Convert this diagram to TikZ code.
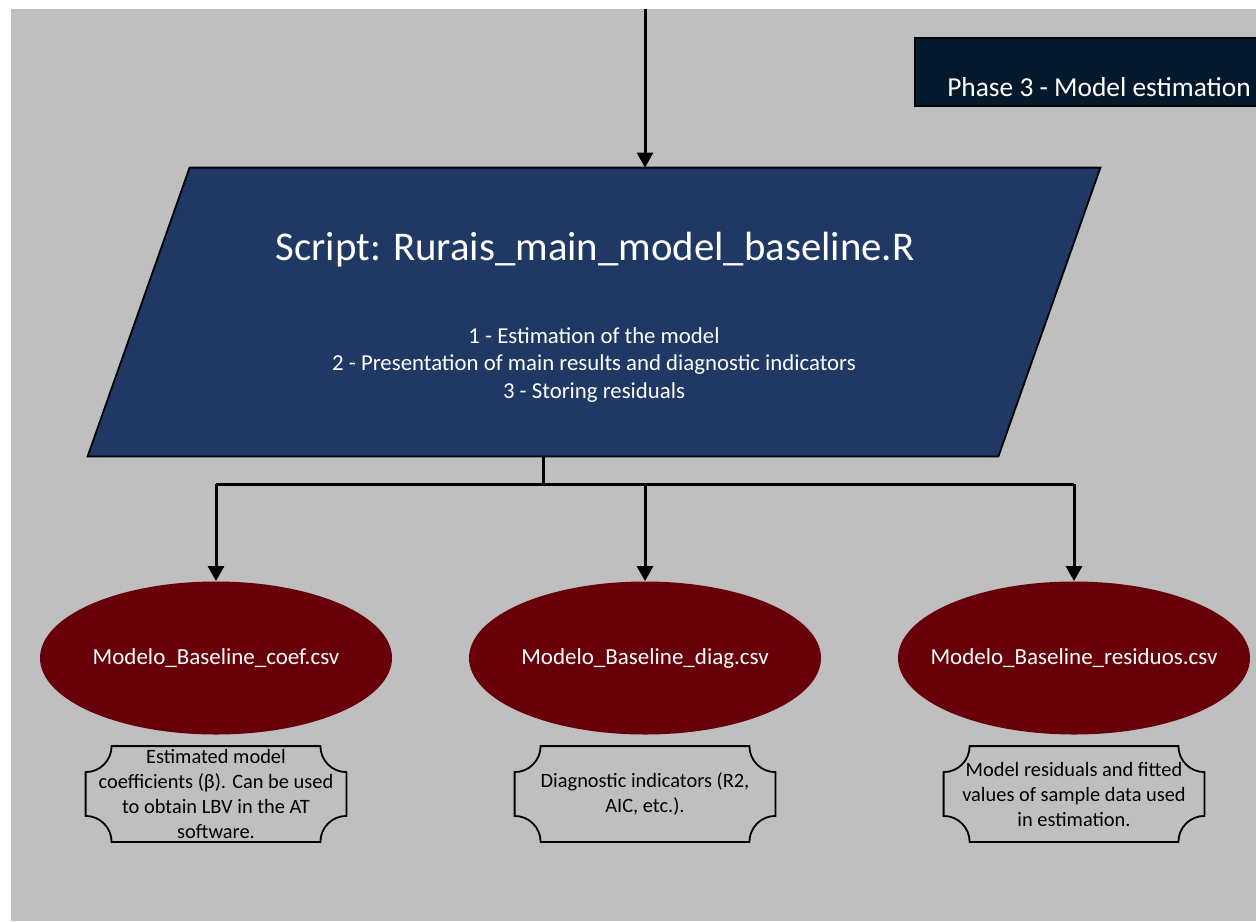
\documentclass[tikz,border=0pt]{standalone}
\usepackage{fontspec}
\setmainfont{Carlito}
\usetikzlibrary{arrows.meta}

\definecolor{canvasgray}{RGB}{191,191,191}
\definecolor{scriptblue}{RGB}{31,56,100}
\definecolor{filered}{RGB}{104,0,10}
\definecolor{phasenavy}{RGB}{4,25,44}

% outline with concave corners around a note node
\newcommand{\plaqueframe}[1]{%
  \draw[line width=0.9pt]
    ([xshift=13pt]#1.north west) -- ([xshift=-13pt]#1.north east)
    arc[start angle=180,end angle=270,radius=13pt] -- ([yshift=13pt]#1.south east)
    arc[start angle=90,end angle=180,radius=13pt] -- ([xshift=13pt]#1.south west)
    arc[start angle=0,end angle=90,radius=13pt] -- ([yshift=-13pt]#1.north west)
    arc[start angle=270,end angle=360,radius=13pt] -- cycle;}

\usetikzlibrary{shapes.geometric}

\begin{document}
\begin{tikzpicture}[x=0.5pt,y=-0.5pt,
  flow/.style={line width=1.5pt},
  flowarrow/.style={line width=1.5pt,-{Triangle[width=8pt,length=7.5pt]}},
  file/.style={ellipse,fill=filered,minimum width=176pt,minimum height=76.5pt,inner sep=0pt},
  filetext/.style={text=white,font=\fontsize{11.5}{13}\selectfont},
  note/.style={minimum width=130pt,minimum height=47.5pt,inner sep=0pt,align=center,font=\fontsize{10.2}{12.5}\selectfont}]
	\useasboundingbox (0,0) rectangle (1256,921);
	\clip (0,0) rectangle (1256,921);
	\fill[white] (0,0) rectangle (1256,921);
	\fill[canvasgray] (11,9) rectangle (1256,921);
	
	\node[draw,line width=0.6pt,fill=phasenavy,minimum width=184pt,minimum height=34pt] (phase) at (1099,72) {};
	\node[text=white,font=\fontsize{13.7}{16}\selectfont] (phasetext) at (1099,87) {Phase 3 - Model estimation};
	
	% parallelogram drawn on the corners of an empty box
	\node[minimum width=455pt,minimum height=144pt,inner sep=0pt] (script) at (594,312) {};
	\filldraw[fill=scriptblue,line width=0.9pt] ([xshift=25.5pt]script.north west) -- ([xshift=25.5pt]script.north east)
		-- ([xshift=-25.5pt]script.south east) -- ([xshift=-25.5pt]script.south west) -- cycle;
	\node[text=white,font=\fontsize{20.4}{23}\selectfont] (title) at (595,250) {Script: Rurais\_main\_model\_baseline.R};
	\node[text=white,align=center,font=\fontsize{11.4}{13.75}\selectfont] (steps) at (594,365) {1 - Estimation of the model\\2 - Presentation of main results and diagnostic indicators\\3 - Storing residuals};
	
	\node[file, label={[filetext]center:Modelo\_Baseline\_coef.csv}] (coef) at (216,658) {};
	\node[file, label={[filetext]center:Modelo\_Baseline\_diag.csv}] (diag) at (645,658) {};
	\node[file, label={[filetext]center:Modelo\_Baseline\_residuos.csv}] (resid) at (1074,658) {};
	
	\node[note] (coefnote) at (216,794) {Estimated model\\coefficients (β). Can be used\\to obtain LBV in the AT\\software.};
	\node[note] (diagnote) at (645,794) {Diagnostic indicators (R2,\\AIC, etc.).};
	\node[note] (residnote) at (1074,794) {Model residuals and fitted\\values of sample data used\\in estimation.};
	\plaqueframe{coefnote}
	\plaqueframe{diagnote}
	\plaqueframe{residnote}
	
	\coordinate (entry) at (645,9);
	\coordinate (split) at (543,484);
	\draw[flowarrow] (entry) -- (script.north -| entry);
	\draw[flow] (script.south -| split) -- (split);
	\draw[flow] (split -| coef) -- (split -| resid);
	\draw[flowarrow] (split -| coef) -- (coef.north);
	\draw[flowarrow] (split -| diag) -- (diag.north);
	\draw[flowarrow] (split -| resid) -- (resid.north);
\end{tikzpicture}
\end{document}
